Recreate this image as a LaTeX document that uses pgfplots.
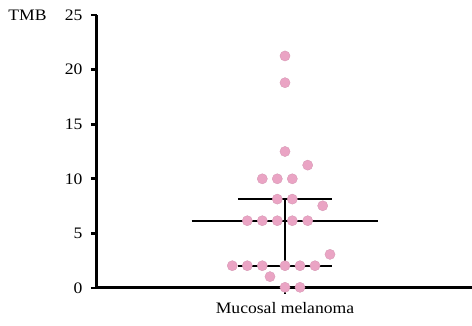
\documentclass[border=0pt]{standalone}
\usepackage{fontspec}
\setmainfont{Liberation Serif}[FakeStretch=1.1]
\usepackage{pgfplots}
\pgfplotsset{compat=1.18}
\definecolor{dotpink}{RGB}{234,164,196}
\begin{document}
\begin{tikzpicture}
\begin{axis}[
  scale only axis,
  width=375pt, height=273pt,
  xmin=0, xmax=375, ymin=0, ymax=25,
  axis x line=bottom, axis y line=left,
  axis line style={line width=3pt, -},
  every tick/.style={black, line width=2.8pt},
  tick align=outside,
  ytick={0,5,10,15,20,25},
  major tick length=6pt,
  xtick={188}, xticklabels={Mucosal melanoma},
  x tick style={line width=2pt},
  /pgf/number format/assume math mode=true,
  tick label style={font=\fontsize{16}{18}\selectfont},
  yticklabel style={xshift=-5pt},
  xticklabel style={yshift=-5pt},
  clip=false,
  axis on top=false,
]
% median
\addplot[black, line width=2.3pt] coordinates {(94.7,6.16) (281.3,6.16)};
% error bars
\addplot[black, line width=2.3pt] coordinates {(141,8.14) (235,8.14)};
\addplot[black, line width=2.3pt] coordinates {(141,2.04) (235,2.04)};
\addplot[black, line width=2.3pt] coordinates {(188,2.04) (188,8.14)};
% points
\addplot[only marks, mark=*, mark size=5.1pt, mark options={fill=dotpink, draw=dotpink!90!black, line width=0.3pt}] coordinates {
(188,21.25) (188,18.8) (188,12.5) (210.7,11.25)
(165.3,10.0) (180.3,10.0) (195.3,10.0)
(180.3,8.14) (195.3,8.14) (225.7,7.53)
(150.3,6.16) (165.3,6.16) (180.3,6.16) (195.3,6.16) (210.7,6.16)
(233,3.08)
(135.3,2.04) (150.3,2.04) (165.3,2.04) (188,2.04) (203,2.04) (218,2.04)
(173,1.04) (188,0.06) (203,0.06)
};
\node[font=\fontsize{16}{18}\selectfont, anchor=center] at (axis cs:0,25) [xshift=-69.5pt] {TMB};
\end{axis}
\pgfresetboundingbox
\path (-97pt,-38pt) rectangle (375pt,288pt);
\end{tikzpicture}
\end{document}
